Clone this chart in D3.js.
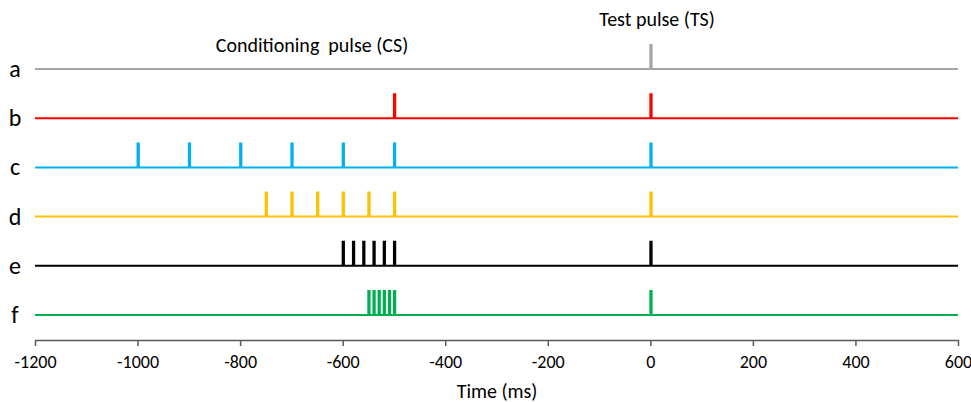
<!DOCTYPE html>
<html>
<head>
<meta charset="utf-8">
<title>Paired pulse protocol</title>
<style>
    body { margin: 0; background: white; }
    text { font-family: Calibri, Carlito, "Open Sans", sans-serif; fill: #000; }
</style>
</head>
<body>
<script src="https://cdn.jsdelivr.net/npm/d3@7/dist/d3.min.js"></script>
<script>
// rows of the protocol, top to bottom
var rows = ["a", "b", "c", "d", "e", "f"];
var colors = ["#A6A6A6", "#FF0000", "#00B0F0", "#FFC000", "#000000", "#00B050"];
// pulse onset times (ms) for each row
var pulses = [
    [0],
    [-500, 0],
    [-1000, -900, -800, -700, -600, -500, 0],
    [-750, -700, -650, -600, -550, -500, 0],
    [-600, -580, -560, -540, -520, -500, 0],
    [-550, -540, -530, -520, -510, -500, 0]
];
var ticks = [-1200, -1000, -800, -600, -400, -200, 0, 200, 400, 600];
var pulseWidth = 2.5; // ms

var width = 971, height = 402;
var svg = d3.select("body").append("svg")
    .attr("width", width)
    .attr("height", height);

var x = d3.scaleLinear().domain([-1200, 600]).range([35, 958]);
var y = d3.scalePoint().domain(rows).range([69, 315]);
var pulseH = 24;

// one path per row: flat line with square pulses
function tracePoints(times, row) {
    var base = y(row), top = base - pulseH;
    var pts = [[x(-1200), base]];
    times.forEach(function(t) {
        pts.push([x(t), base], [x(t), top], [x(t + pulseWidth), top], [x(t + pulseWidth), base]);
    });
    pts.push([x(600), base]);
    return pts;
}

var line = d3.line();

svg.selectAll(".trace")
    .data(rows)
    .enter().append("path")
    .attr("class", "trace")
    .attr("d", function(d, i) { return line(tracePoints(pulses[i], d)); })
    .attr("fill", "none")
    .attr("stroke", function(d, i) { return colors[i]; })
    .attr("stroke-width", 2);

svg.selectAll(".rowlabel")
    .data(rows)
    .enter().append("text")
    .attr("class", "rowlabel")
    .attr("x", 15)
    .attr("y", function(d) { return y(d) + 8; })
    .attr("text-anchor", "middle")
    .style("font-size", "24px")
    .text(function(d) { return d; });

// x axis
var axis = svg.append("g")
    .attr("transform", "translate(0,340)")
    .call(d3.axisBottom(x).tickValues(ticks).tickFormat(function(d) { return String(d); })
        .tickSize(6).tickSizeOuter(0).tickPadding(9));
axis.select(".domain").attr("stroke", "#595959").attr("stroke-width", 1.5);
axis.selectAll(".tick line").attr("stroke", "#595959").attr("stroke-width", 1.5);
axis.selectAll(".tick text")
    .style("font-size", "18px")
    .style("font-family", "Calibri, Carlito, 'Open Sans', sans-serif")
    .attr("fill", "#000");

svg.append("text")
    .attr("x", 497)
    .attr("y", 398)
    .attr("text-anchor", "middle")
    .style("font-size", "20px")
    .text("Time (ms)");

svg.append("text")
    .attr("x", 312)
    .attr("y", 52)
    .attr("text-anchor", "middle")
    .style("font-size", "20px")
    .style("white-space", "pre")
    .text("Conditioning  pulse (CS)");

svg.append("text")
    .attr("x", 657)
    .attr("y", 26)
    .attr("text-anchor", "middle")
    .style("font-size", "20px")
    .text("Test pulse (TS)");
</script>
</body>
</html>
